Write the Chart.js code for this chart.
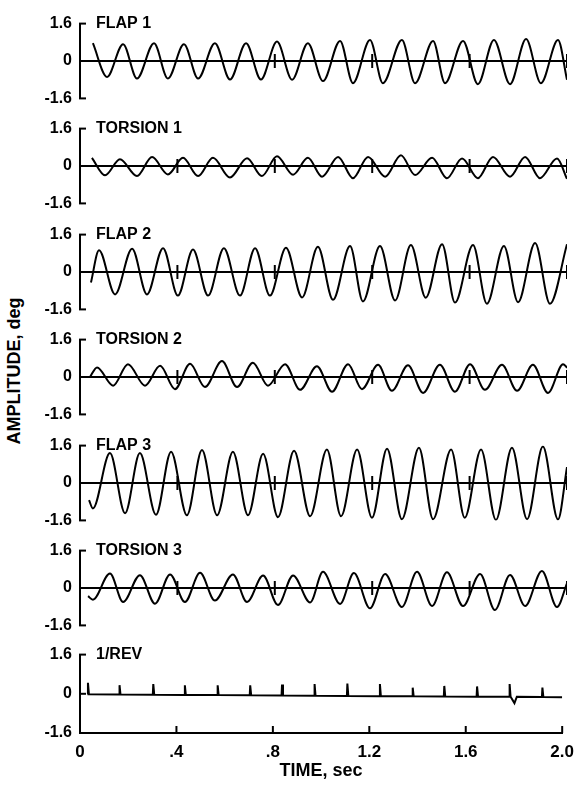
<!DOCTYPE html>
<html>
<head>
<meta charset="utf-8">
<title>Blade response time histories</title>
<script src="https://cdn.jsdelivr.net/npm/chart.js@4.4.0/dist/chart.umd.min.js"></script>
<style>
  html, body { margin: 0; padding: 0; background: #fff; }
  #wrap { position: relative; width: 583px; height: 790px; overflow: hidden; }
  #wrap canvas { position: absolute; left: 0; }
  #ytitle {
    position: absolute; left: 14px; top: 371px;
    transform: translate(-50%, -50%) rotate(-90deg);
    font: bold 18px "Liberation Sans", Arial, sans-serif;
    white-space: nowrap; color: #000;
  }
</style>
</head>
<body>
<div id="wrap">
  <div id="ytitle">AMPLITUDE, deg</div>
</div>
<script>
// ============================================================================
// DATA (time in sec, amplitude in deg)
// ============================================================================

const timeMin = 0;
const timeMax = 2.0;
const xTickValues = [0, 0.4, 0.8, 1.2, 1.6, 2.0];
const xTickLabels = ['0', '.4', '.8', '1.2', '1.6', '2.0'];
const yTickValues = [-1.6, 0, 1.6];
const yTickLabels = ['-1.6', '0', '1.6'];
const panelTitles = ['FLAP 1', 'TORSION 1', 'FLAP 2', 'TORSION 2', 'FLAP 3', 'TORSION 3', '1/REV'];

// peaks and troughs of each trace
const flap1Time = [0.053, 0.111, 0.177, 0.234, 0.304, 0.361, 0.427, 0.485, 0.554, 0.616, 0.682, 0.743, 0.809, 0.871, 0.936, 0.998, 1.068, 1.121, 1.191, 1.244, 1.322, 1.376, 1.450, 1.499, 1.573, 1.634, 1.700, 1.766, 1.832, 1.893, 1.963, 2.0];
const flap1Amp = [0.76, -0.68, 0.72, -0.75, 0.76, -0.75, 0.72, -0.75, 0.76, -0.79, 0.76, -0.79, 0.83, -0.80, 0.76, -0.86, 0.86, -0.95, 0.90, -0.95, 0.90, -0.95, 0.86, -0.95, 0.86, -0.99, 0.90, -0.99, 0.94, -0.95, 0.90, -0.80];

const torsion1Time = [0.049, 0.103, 0.164, 0.234, 0.296, 0.361, 0.423, 0.485, 0.546, 0.616, 0.686, 0.747, 0.809, 0.875, 0.936, 0.994, 1.060, 1.121, 1.183, 1.253, 1.318, 1.376, 1.446, 1.507, 1.569, 1.634, 1.696, 1.766, 1.828, 1.889, 1.959, 2.0];
const torsion1Amp = [0.35, -0.40, 0.29, -0.43, 0.38, -0.36, 0.35, -0.43, 0.35, -0.49, 0.33, -0.43, 0.42, -0.37, 0.35, -0.46, 0.39, -0.52, 0.39, -0.46, 0.46, -0.39, 0.35, -0.52, 0.32, -0.52, 0.39, -0.46, 0.39, -0.52, 0.32, -0.55];

const flap2Time = [0.045, 0.078, 0.144, 0.214, 0.275, 0.341, 0.402, 0.464, 0.526, 0.591, 0.657, 0.719, 0.780, 0.846, 0.912, 0.977, 1.039, 1.109, 1.162, 1.232, 1.294, 1.359, 1.420, 1.487, 1.540, 1.614, 1.671, 1.741, 1.799, 1.869, 1.930, 2.0];
const flap2Amp = [-0.45, 0.93, -0.96, 1.00, -0.96, 1.02, -1.01, 0.96, -1.01, 1.02, -1.01, 1.02, -1.01, 1.04, -1.09, 1.08, -1.19, 1.11, -1.26, 1.11, -1.22, 1.15, -1.10, 1.19, -1.31, 1.15, -1.36, 1.11, -1.29, 1.24, -1.36, 1.19];

const torsion2Time = [0.041, 0.070, 0.136, 0.197, 0.267, 0.329, 0.390, 0.452, 0.513, 0.583, 0.645, 0.710, 0.772, 0.842, 0.904, 0.973, 1.035, 1.101, 1.158, 1.224, 1.281, 1.347, 1.409, 1.478, 1.540, 1.602, 1.663, 1.733, 1.795, 1.860, 1.922, 1.984, 2.0];
const torsion2Amp = [0.00, 0.41, -0.37, 0.55, -0.37, 0.48, -0.52, 0.57, -0.43, 0.68, -0.43, 0.61, -0.37, 0.55, -0.55, 0.46, -0.63, 0.55, -0.52, 0.52, -0.59, 0.50, -0.68, 0.52, -0.63, 0.55, -0.55, 0.52, -0.59, 0.52, -0.68, 0.55, 0.40];

const flap3Time = [0.037, 0.053, 0.123, 0.185, 0.246, 0.312, 0.374, 0.439, 0.501, 0.563, 0.628, 0.690, 0.752, 0.813, 0.879, 0.945, 1.014, 1.072, 1.138, 1.199, 1.261, 1.322, 1.392, 1.450, 1.524, 1.580, 1.647, 1.708, 1.774, 1.836, 1.901, 1.963, 2.0];
const flap3Amp = [-0.73, -1.09, 1.28, -1.29, 1.28, -1.36, 1.34, -1.38, 1.41, -1.38, 1.34, -1.38, 1.25, -1.46, 1.38, -1.42, 1.43, -1.42, 1.43, -1.49, 1.47, -1.55, 1.51, -1.55, 1.43, -1.49, 1.43, -1.58, 1.51, -1.55, 1.56, -1.56, 0.68];

const torsion3Time = [0.033, 0.053, 0.123, 0.177, 0.246, 0.308, 0.370, 0.431, 0.493, 0.554, 0.628, 0.686, 0.752, 0.813, 0.875, 0.945, 0.998, 1.068, 1.125, 1.191, 1.253, 1.322, 1.384, 1.446, 1.507, 1.573, 1.643, 1.704, 1.766, 1.828, 1.897, 1.959, 2.0];
const torsion3Amp = [-0.35, -0.50, 0.62, -0.60, 0.55, -0.67, 0.58, -0.60, 0.65, -0.54, 0.58, -0.60, 0.53, -0.73, 0.54, -0.62, 0.69, -0.68, 0.64, -0.87, 0.60, -0.81, 0.69, -0.77, 0.67, -0.77, 0.60, -0.94, 0.56, -0.77, 0.73, -0.81, 0.20];

// timing marks on the traces (FLAP 1 has none at .4 sec)
const markTimes = [0.4, 0.8, 1.2, 1.6, 2.0];
const flap1MarkTimes = [0.8, 1.2, 1.6, 2.0];

// 1/REV pulse train
const revTime = [0.033, 0.164, 0.304, 0.435, 0.571, 0.706, 0.838, 0.973, 1.109, 1.244, 1.380, 1.511, 1.647, 1.782, 1.918];
const revPeak = [0.45, 0.35, 0.40, 0.35, 0.35, 0.35, 0.38, 0.40, 0.42, 0.40, 0.25, 0.32, 0.30, 0.40, 0.25];
const revBase = [-0.02, -0.03, -0.04, -0.05, -0.05, -0.06, -0.07, -0.08, -0.09, -0.10, -0.10, -0.11, -0.12, -0.12, -0.13];
const revDipTime = [1.802];
const revDipAmp = [-0.38];
const revDipBase = [-0.12];
const revEndTime = [2.0];
const revEndAmp = [-0.14];

// ============================================================================
// LAYOUT
// ============================================================================

const panelZeroY = [61, 166, 272, 377, 483, 588, 692];
const fontFamily = '"Liberation Sans", Arial, Helvetica, sans-serif';
Chart.defaults.font.family = fontFamily;
Chart.defaults.color = '#000';

function tracePoints(times, amps) {
  return times.map((t, i) => ({ x: t, y: amps[i] }));
}

function revPoints() {
  const pts = [];
  revTime.forEach((t, i) => {
    pts.push({ x: t - 0.002, y: revBase[i] });
    pts.push({ x: t, y: revPeak[i] });
    pts.push({ x: t + 0.004, y: revBase[i] });
  });
  revDipTime.forEach((t, i) => {
    pts.push({ x: t, y: revDipAmp[i] });
    pts.push({ x: t + 0.010, y: revDipBase[i] });
  });
  revEndTime.forEach((t, i) => {
    pts.push({ x: t, y: revEndAmp[i] });
  });
  return pts.sort((a, b) => a.x - b.x);
}

const panelSeries = [
  tracePoints(flap1Time, flap1Amp),
  tracePoints(torsion1Time, torsion1Amp),
  tracePoints(flap2Time, flap2Amp),
  tracePoints(torsion2Time, torsion2Amp),
  tracePoints(flap3Time, flap3Amp),
  tracePoints(torsion3Time, torsion3Amp),
  revPoints()
];
const panelMarks = [flap1MarkTimes, markTimes, markTimes, markTimes, markTimes, markTimes, []];

// Bracket ends on the amplitude axis, panel title, inward time ticks
const panelDecor = {
  id: 'panelDecor',
  afterDraw(chart, args, opts) {
    const { ctx, chartArea, scales } = chart;
    const y = scales.y;
    ctx.save();
    ctx.strokeStyle = '#000';
    ctx.lineWidth = 2;
    const serifs = opts.last ? yTickValues.slice(1) : [yTickValues[0], yTickValues[2]];
    serifs.forEach(v => {
      const py = y.getPixelForValue(v);
      ctx.beginPath();
      ctx.moveTo(chartArea.left - 1, py);
      ctx.lineTo(chartArea.left + 6, py);
      ctx.stroke();
    });
    if (opts.last) {
      const x = scales.x;
      xTickValues.forEach(v => {
        const px = x.getPixelForValue(v);
        ctx.beginPath();
        ctx.moveTo(px, chartArea.bottom);
        ctx.lineTo(px, chartArea.bottom - 7);
        ctx.stroke();
      });
    }
    ctx.fillStyle = '#000';
    ctx.font = 'bold 16px ' + fontFamily;
    ctx.textBaseline = 'middle';
    ctx.textAlign = 'left';
    ctx.fillText(opts.title, chartArea.left + 16, y.getPixelForValue(yTickValues[2]));
    ctx.restore();
  }
};

const wrap = document.getElementById('wrap');

panelSeries.forEach((points, i) => {
  const last = i === panelSeries.length - 1;
  const canvas = document.createElement('canvas');
  canvas.width = 583;
  canvas.height = last ? 145 : 110;
  canvas.style.top = (panelZeroY[i] - 55) + 'px';
  wrap.appendChild(canvas);

  const datasets = [{
    type: 'line',
    data: points,
    borderColor: '#000',
    borderWidth: 2,
    pointRadius: 0,
    fill: false,
    tension: 0,
    cubicInterpolationMode: last ? 'default' : 'monotone'
  }];
  if (panelMarks[i].length) {
    datasets.push({
      type: 'scatter',
      data: panelMarks[i].map(t => ({ x: t, y: 0 })),
      pointStyle: 'line',
      pointRadius: 7,
      pointRotation: 90,
      pointBorderColor: '#000',
      pointBorderWidth: 2,
      showLine: false
    });
  }

  new Chart(canvas, {
    type: 'line',
    data: { datasets },
    options: {
      responsive: false,
      animation: false,
      events: [],
      layout: { padding: { top: 14, bottom: last ? 0 : 14, left: 0, right: 16 } },
      plugins: {
        legend: { display: false },
        tooltip: { enabled: false },
        panelDecor: { title: panelTitles[i], last: last }
      },
      scales: {
        x: {
          type: 'linear',
          min: timeMin,
          max: timeMax,
          display: last,
          afterBuildTicks: ax => { ax.ticks = xTickValues.map(v => ({ value: v })); },
          afterFit: ax => { ax.height = last ? 49 : 0; },
          grid: { display: false, drawTicks: false },
          border: { display: true, color: '#000', width: 2 },
          ticks: {
            padding: 9,
            color: '#000',
            maxRotation: 0,
            autoSkip: false,
            font: { size: 17, weight: 'bold' },
            callback: (v, idx) => xTickLabels[idx]
          },
          title: {
            display: true,
            text: 'TIME, sec',
            color: '#000',
            font: { size: 18, weight: 'bold' },
            padding: 0
          }
        },
        y: {
          type: 'linear',
          min: yTickValues[0],
          max: yTickValues[2],
          afterBuildTicks: ax => { ax.ticks = yTickValues.map(v => ({ value: v })); },
          afterFit: ax => { ax.width = 80; },
          grid: {
            drawTicks: false,
            lineWidth: 2,
            color: c => (!last && c.tick && c.tick.value === 0) ? '#000' : 'rgba(0,0,0,0)'
          },
          border: { display: true, color: '#000', width: 2 },
          ticks: {
            padding: 8,
            color: '#000',
            font: { size: 16, weight: 'bold' },
            callback: (v, idx) => yTickLabels[idx]
          }
        }
      }
    },
    plugins: [panelDecor]
  });
});
</script>
</body>
</html>
